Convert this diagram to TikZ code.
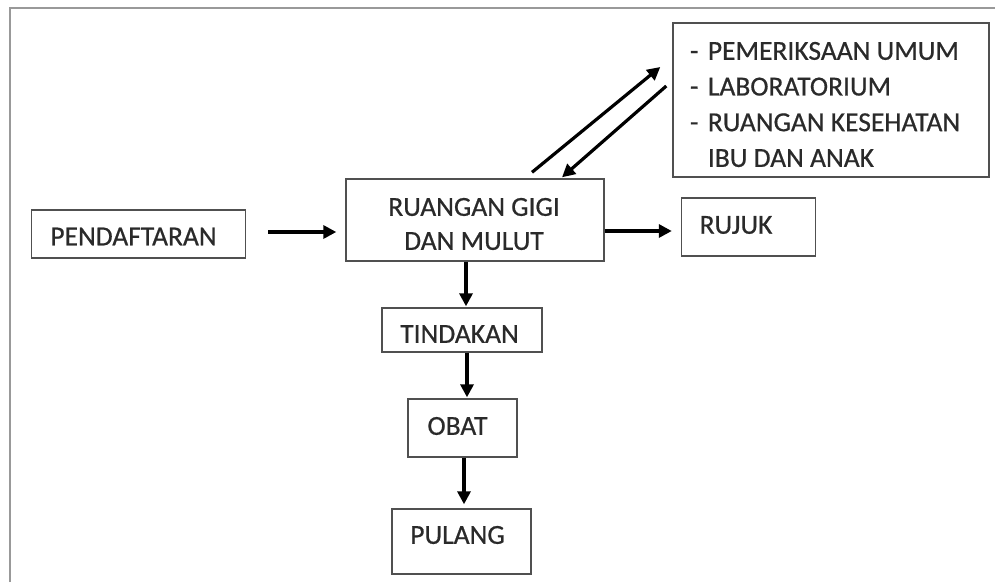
\documentclass[tikz,border=0pt]{standalone}
\usepackage{fontspec}
\setmainfont{Carlito}[FakeBold=0.6]
\usetikzlibrary{arrows.meta,calc}
\definecolor{boxgray}{HTML}{505050}
\definecolor{txtgray}{HTML}{2A2A2A}
\definecolor{framegray}{HTML}{999999}
\newcommand{\dsh}{-\hspace{9.5pt}}
\begin{document}
\begin{tikzpicture}[x=1pt,y=-1pt,
  box/.style={draw=boxgray, line width=1.4pt, inner sep=0pt, fill=white},
  lbl/.style={inner sep=0pt, text=txtgray, font=\fontsize{27.5}{34}\selectfont},
  arr/.style={line width=3.2pt, black, -{Triangle[length=13pt,width=13pt]}}]
\useasboundingbox (0,0) rectangle (995,582);
\coordinate (f1) at (10,582);
\coordinate (f2) at (10,8);
\coordinate (f3) at (995,8);
\draw[framegray, line width=2pt] (f1) -- (f2) -- (f3);
% boxes
\node[box, minimum width=214pt, minimum height=48pt] (pend) at (138.5,234) {};
\node[box, minimum width=258pt, minimum height=82pt] (rg) at (475,220) {};
\node[box, minimum width=134pt, minimum height=58pt] (rujuk) at (748.5,227) {};
\node[box, minimum width=316pt, minimum height=154pt] (lab) at (831,100) {};
\node[box, minimum width=160pt, minimum height=44pt] (tind) at (462,330) {};
\node[box, minimum width=109pt, minimum height=58pt] (obat) at (462.5,428) {};
\node[box, minimum width=139pt, minimum height=65pt] (pul) at (461.5,541.5) {};
% texts
\node[lbl] (tpend) at ($(pend.center)+(-5,2.5)$) {PENDAFTARAN};
\node[lbl, align=center] (trg) at ($(rg.center)+(-1,4)$) {RUANGAN GIGI\\DAN MULUT};
\node[lbl] (trujuk) at ($(rujuk.center)+(-12.5,-2)$) {RUJUK};
\node[lbl, align=left, anchor=west, font=\fontsize{27.5}{35.7}\selectfont] (tlab) at ($(lab.west)+(17.5,4.5)$)
  {\dsh PEMERIKSAAN UMUM\\\dsh LABORATORIUM\\\dsh RUANGAN KESEHATAN\\\hphantom{\dsh}IBU DAN ANAK};
\node[lbl] (ttind) at ($(tind.center)+(-2.5,4)$) {TINDAKAN};
\node[lbl] (tobat) at ($(obat.center)+(-5,-2)$) {OBAT};
\node[lbl] (tpul) at ($(pul.center)+(-4,-6.5)$) {PULANG};
% arrows
\draw[arr] ($(pend.east)+(22,-2)$) -- ($(rg.west |- pend.east)+(-9,-2)$);
\draw[arr] ($(rg.east)+(0,11)$) -- ($(rujuk.west |- rg.east)+(-9,11)$);
\draw[arr] ($(rg.north)+(57,-6)$) -- ($(lab.west)+(-12,-33)$);
\draw[arr] ($(lab.west)+(-6,-14)$) -- ($(rg.north)+(87,-1)$);
\draw[arr] ($(rg.south)+(-9,0)$) -- ($(tind.north)+(4,-1)$);
\draw[arr] ($(tind.south)+(5,0)$) -- ($(obat.north)+(4.5,-1)$);
\draw[arr] ($(obat.south)+(1.5,0)$) -- ($(pul.north)+(2.5,-4)$);
\end{tikzpicture}
\end{document}
